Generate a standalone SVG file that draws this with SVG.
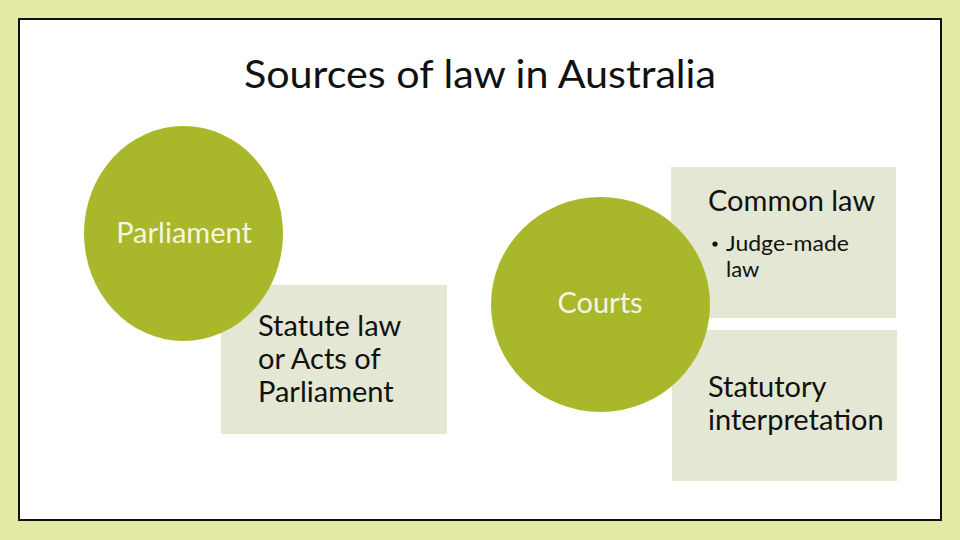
<svg xmlns="http://www.w3.org/2000/svg" width="960" height="540" viewBox="0 0 960 540">
<style>
.t{font-family:Lato,"Open Sans","Liberation Sans",sans-serif;fill:#111111}
.w{font-family:Lato,"Open Sans","Liberation Sans",sans-serif;fill:#F4F5E2}
.circ{fill:#A8B82A}
.box{fill:#E3E7D3}
</style>
<rect x="0" y="0" width="960" height="540" fill="#E2EAA3"/>
<rect x="19" y="19" width="922" height="501" fill="#FFFFFF" stroke="#111111" stroke-width="2"/>
<text class="t" x="480" y="88" font-size="39" text-anchor="middle" textLength="472" lengthAdjust="spacingAndGlyphs">Sources of law in Australia</text>
<g id="statute">
<rect class="box" x="221" y="285" width="226" height="149"/>
<text class="t" font-size="29"><tspan x="258" y="336">Statute law</tspan><tspan x="258" y="369">or Acts of</tspan><tspan x="258" y="402">Parliament</tspan></text>
</g>
<g id="parliament">
<ellipse class="circ" cx="183.5" cy="233.5" rx="99.5" ry="107.5"/>
<text class="w" x="184" y="243" font-size="29" text-anchor="middle">Parliament</text>
</g>
<g id="common-law">
<rect class="box" x="671" y="167" width="225" height="151"/>
<text class="t" x="708" y="211" font-size="29">Common law</text>
<circle cx="715" cy="244" r="2.6" fill="#111111"/>
<text class="t" font-size="22" textLength="123" lengthAdjust="spacingAndGlyphs" x="726" y="251">Judge-made</text>
<text class="t" font-size="22" x="726" y="277">law</text>
</g>
<g id="statutory">
<rect class="box" x="672" y="330" width="225" height="151"/>
<text class="t" font-size="29"><tspan x="708" y="397">Statutory</tspan><tspan x="708" y="430">interpretation</tspan></text>
</g>
<g id="courts">
<ellipse class="circ" cx="600.5" cy="304.5" rx="109.5" ry="107.5"/>
<text class="w" x="600" y="313" font-size="29" text-anchor="middle">Courts</text>
</g>
<g id="connectors"></g>
</svg>
